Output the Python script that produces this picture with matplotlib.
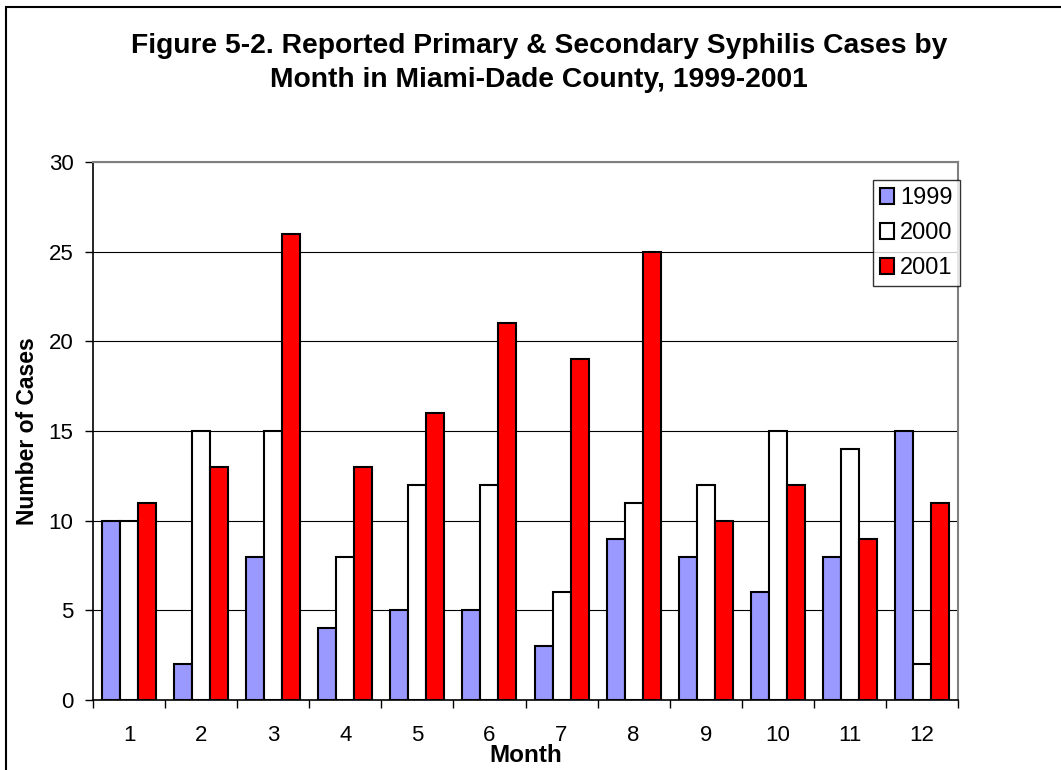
import numpy as np
from matplotlib import pyplot as plt
from matplotlib.patches import Rectangle

months = [1, 2, 3, 4, 5, 6, 7, 8, 9, 10, 11, 12]
cases_1999 = [10, 2, 8, 4, 5, 5, 3, 9, 8, 6, 8, 15]
cases_2000 = [10, 15, 15, 8, 12, 12, 6, 11, 12, 15, 14, 2]
cases_2001 = [11, 13, 26, 13, 16, 21, 19, 25, 10, 12, 9, 11]
years = ["1999", "2000", "2001"]
colors = ["#9999FF", "#FFFFFF", "#FF0000"]

plt.rcParams['font.family'] = ['Liberation Sans', 'DejaVu Sans']

fig = plt.figure(figsize=(10.61, 7.70), dpi=100)
# outer chart border (open at right and bottom, cut by image edge)
fig.patches.append(Rectangle((6 / 1061, -0.1), 1.2, (770 - 7) / 770 + 0.1,
                             transform=fig.transFigure, fill=False,
                             edgecolor='black', linewidth=1.5))

ax = fig.add_axes([93 / 1061, 70 / 770, 865 / 1061, 538 / 770])

x = np.array(months)
w = 0.25
for i, vals in enumerate([cases_1999, cases_2000, cases_2001]):
    ax.bar(x + (i - 1) * w, vals, width=w, color=colors[i], edgecolor='black',
           linewidth=1.5, label=years[i], zorder=3)

ax.set_xlim(0.5, 12.5)
ax.set_ylim(0, 30)
ax.set_yticks(range(0, 31, 5))
ax.yaxis.grid(True, color='black', linewidth=0.8, zorder=0)
ax.set_xticks(months)
ax.set_xticklabels([str(m) for m in months])
ax.set_xticks(np.arange(0.5, 13, 1), minor=True)
ax.tick_params(axis='x', which='major', length=0, pad=18, labelsize=16)
ax.tick_params(axis='x', which='minor', length=6, width=1, direction='out')
ax.tick_params(axis='y', length=6, width=1, direction='out', labelsize=16, pad=8)

for s in ['top', 'right']:
    ax.spines[s].set_color('#808080')
    ax.spines[s].set_linewidth(1.5)
for s in ['left', 'bottom']:
    ax.spines[s].set_color('black')
    ax.spines[s].set_linewidth(1.2)

ax.set_xlabel("Month", fontsize=17.5, fontweight='bold')
ax.xaxis.set_label_coords(0.5006, -0.081)
ax.set_ylabel("Number of Cases", fontsize=16.5, fontweight='bold', labelpad=7)

fig.text(539 / 1061, 1 - 33 / 770,
         "Figure 5-2. Reported Primary & Secondary Syphilis Cases by\n"
         "Month in Miami-Dade County, 1999-2001",
         ha='center', va='top', fontsize=20.3, fontweight='bold',
         linespacing=1.38)

leg = ax.legend(loc='upper right', bbox_to_anchor=(1.002, 0.966), fontsize=17,
                frameon=True, fancybox=False, handlelength=0.62,
                handleheight=0.62, handletextpad=0.25, borderpad=0.3,
                labelspacing=0.55, borderaxespad=0)
leg.get_frame().set_edgecolor('black')
leg.get_frame().set_linewidth(1)

fig.savefig("out.png", dpi=100)
